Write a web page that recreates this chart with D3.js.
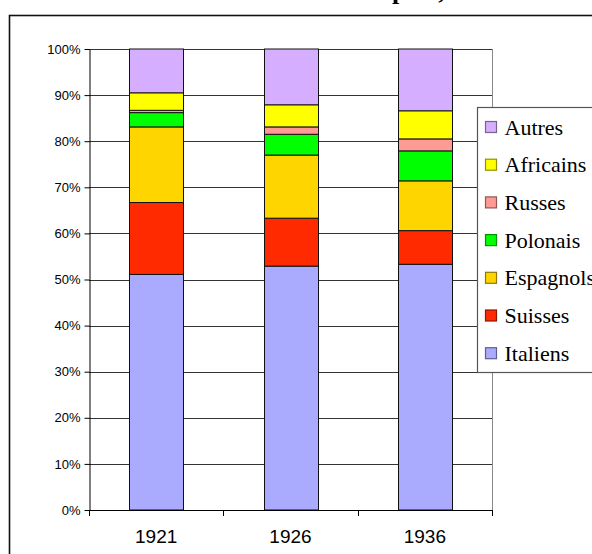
<!DOCTYPE html>
<html>
<head>
<meta charset="utf-8">
<script src="https://cdn.jsdelivr.net/npm/d3@7"></script>
<style>
  body { margin: 0; background: #fff; }
  svg { display: block; }
  .axis text { font-family: Arial, "Liberation Sans", sans-serif; fill: #000; }
</style>
</head>
<body>
<svg id="chart" width="592" height="554"></svg>
<script>
// values, in percent of each year
var years = ["1921", "1926", "1936"];
var groups = ["Italiens", "Suisses", "Espagnols", "Polonais", "Russes", "Africains", "Autres"];
var colors = ["#aaaaff", "#ff2a00", "#ffd500", "#00ff00", "#ff9a94", "#ffff00", "#d6aeff"];
var italiens = [51.1, 52.9, 53.3];
var suisses = [15.6, 10.4, 7.3];
var espagnols = [16.4, 13.7, 10.8];
var polonais = [3.1, 4.5, 6.5];
var russes = [0.5, 1.6, 2.6];
var africains = [3.8, 4.8, 6.1];
var autres = [9.5, 12.1, 13.4];
var yTicks = [0, 0.1, 0.2, 0.3, 0.4, 0.5, 0.6, 0.7, 0.8, 0.9, 1];
var title = "Nationalités dans la métropole, 1921-1936";

var series = [italiens, suisses, espagnols, polonais, russes, africains, autres];

var svg = d3.select("#chart");
var plot = { left: 89, right: 492, top: 49, bottom: 510 };

var rows = years.map(function(y, i) {
    var row = { year: y };
    groups.forEach(function(g, k) { row[g] = series[k][i] / 100; });
    return row;
});
var stacked = d3.stack().keys(groups)(rows);

var xScale = d3.scaleBand()
    .domain(years)
    .range([plot.left, plot.right])
    .paddingInner(0.6)
    .paddingOuter(0.3);
var yScale = d3.scaleLinear()
    .domain([0, 1])
    .range([plot.bottom, plot.top]);

// outer frame (cut by the window on the right and bottom)
svg.append("rect")
    .attr("x", 9.5).attr("y", 15.5)
    .attr("width", 620).attr("height", 600)
    .attr("fill", "none")
    .attr("stroke", "#111")
    .attr("stroke-width", 1.6);

// title, only its descenders peek in at the top
var titleNode = svg.append("text")
    .attr("y", -1)
    .attr("font-family", "'Liberation Serif', 'Times New Roman', serif")
    .attr("font-weight", "bold")
    .attr("font-size", 26)
    .text(title);
var pIdx = title.indexOf("p");
titleNode.attr("x", 392 - titleNode.node().getSubStringLength(0, pIdx));

// grid
svg.append("g").selectAll("line")
    .data(yTicks.slice(1))
    .join("line")
    .attr("x1", plot.left).attr("x2", plot.right)
    .attr("y1", d => Math.round(yScale(d)) + 0.5)
    .attr("y2", d => Math.round(yScale(d)) + 0.5)
    .attr("stroke", "#333")
    .attr("stroke-width", 1);
svg.append("line")
    .attr("x1", plot.right + 0.5).attr("x2", plot.right + 0.5)
    .attr("y1", plot.top).attr("y2", plot.bottom)
    .attr("stroke", "#888");

// bars
svg.append("g").selectAll("g")
    .data(stacked)
    .join("g")
    .attr("fill", (d, i) => colors[i])
    .selectAll("rect")
    .data(d => d)
    .join("rect")
    .attr("x", d => Math.round(xScale(d.data.year)) + 0.5)
    .attr("width", Math.round(xScale.bandwidth()))
    .attr("y", d => yScale(d[1]))
    .attr("height", d => yScale(d[0]) - yScale(d[1]))
    .attr("stroke", "#111")
    .attr("stroke-width", 1);

// y axis
var yAxis = d3.axisLeft(yScale)
    .tickValues(yTicks)
    .tickFormat(d3.format(".0%"))
    .tickSize(5)
    .tickSizeOuter(0);
var yg = svg.append("g").attr("class", "axis")
    .attr("transform", "translate(" + [plot.left + 0.5, 0] + ")")
    .call(yAxis);
yg.selectAll("text").attr("font-size", 13).attr("dx", -1);
yg.selectAll("line, path").attr("stroke", "#000");

// x axis: ticks on the category boundaries
var step = xScale.step();
var bounds = d3.range(years.length + 1).map(i => plot.left + i * step);
var xg = svg.append("g").attr("class", "axis");
xg.append("line")
    .attr("x1", plot.left).attr("x2", plot.right + 1)
    .attr("y1", plot.bottom + 0.5).attr("y2", plot.bottom + 0.5)
    .attr("stroke", "#000");
xg.selectAll(".tick")
    .data(bounds)
    .join("line")
    .attr("class", "tick")
    .attr("x1", d => Math.round(d) + 0.5).attr("x2", d => Math.round(d) + 0.5)
    .attr("y1", plot.bottom).attr("y2", plot.bottom + 6)
    .attr("stroke", "#000");
xg.selectAll("text")
    .data(years)
    .join("text")
    .attr("x", d => xScale(d) + xScale.bandwidth() / 2)
    .attr("y", 543)
    .attr("text-anchor", "middle")
    .attr("font-size", 19)
    .text(d => d);

// legend, top entry is the top of the stack
var legend = svg.append("g").attr("transform", "translate(477.5,107.5)");
legend.append("rect")
    .attr("width", 140).attr("height", 265)
    .attr("fill", "#fff")
    .attr("stroke", "#555")
    .attr("stroke-width", 1.2);
var order = groups.map((g, i) => i).reverse();
var item = legend.selectAll(".item")
    .data(order)
    .join("g")
    .attr("class", "item")
    .attr("transform", (d, i) => "translate(0," + (20 + i * 37.7) + ")");
item.append("rect")
    .attr("x", 8).attr("y", -6)
    .attr("width", 11).attr("height", 11)
    .attr("fill", d => colors[d])
    .attr("stroke", d => d3.color(colors[d]).darker(1.6))
    .attr("stroke-width", 1.2);
item.append("text")
    .attr("x", 27).attr("y", 7)
    .attr("font-family", "'Liberation Serif', 'Times New Roman', serif")
    .attr("font-size", 22)
    .text(d => groups[d]);
</script>
</body>
</html>
